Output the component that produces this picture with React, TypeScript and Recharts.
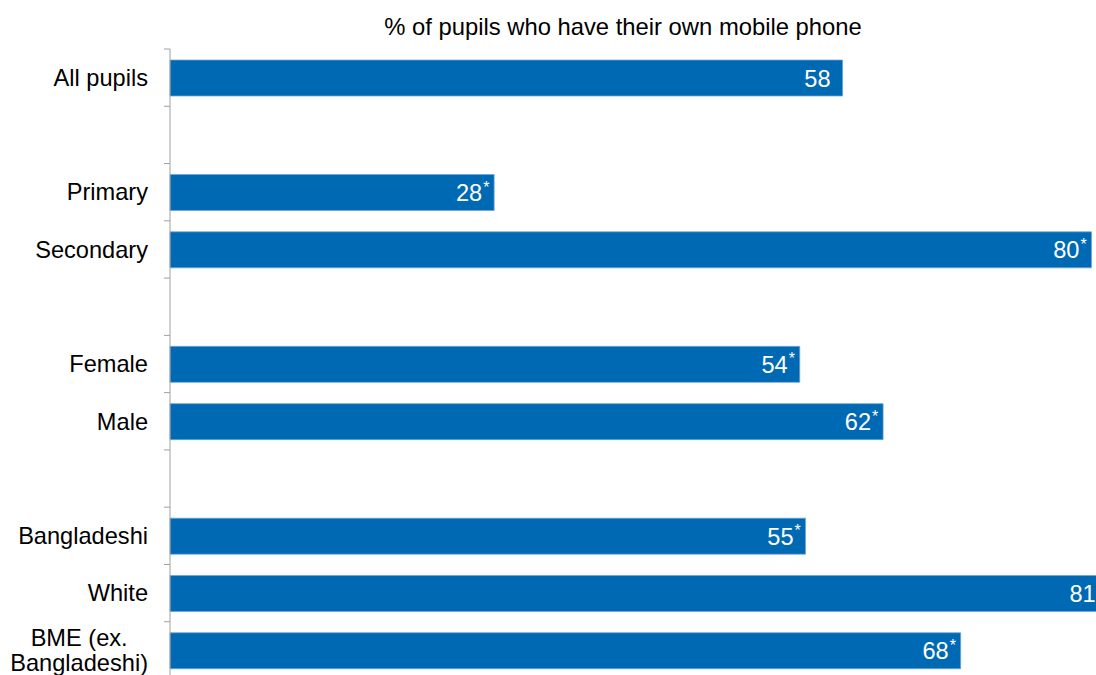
import React from "react";
import { BarChart, Bar, XAxis, YAxis, LabelList } from "recharts";

// rows top to bottom, "" = empty spacer row
const categories = [
  "All pupils",
  "",
  "Primary",
  "Secondary",
  "",
  "Female",
  "Male",
  "",
  "Bangladeshi",
  "White",
  "BME (ex.\nBangladeshi)",
];
const values = [58.1, null, 28.0, 79.6, null, 54.4, 61.6, null, 54.9, 81, 68.3];
const significant = [false, false, true, true, false, true, true, false, true, true, true];

const TITLE = "% of pupils who have their own mobile phone";
const FONT = "'Liberation Sans', Arial, sans-serif";
const FS = 23.6;
const BLUE = "#0069B4";

const AXIS_X = 170;
const PLOT_TOP = 49;
const PLOT_H = 630;
const STEP = PLOT_H / categories.length;

const data = categories.map((name, i) => ({
  key: `r${i}`,
  name,
  value: values[i],
  label:
    values[i] == null ? "" : `${Math.round(values[i] as number)}${significant[i] ? "*" : ""}`,
}));

let ctx: CanvasRenderingContext2D | null = null;
const measure = (s: string) => {
  if (!ctx) ctx = document.createElement("canvas").getContext("2d");
  if (!ctx) return s.length * 11;
  ctx.font = `${FS}px ${FONT}`;
  return ctx.measureText(s).width;
};

const CategoryTick = (props: any) => {
  const { y, payload } = props;
  const i = Number(String(payload.value).slice(1));
  const lines = categories[i] ? categories[i].split("\n") : [];
  const right = AXIS_X - 22;
  const widest = Math.max(0, ...lines.map(measure));
  const cx = right - widest / 2;
  return (
    <g>
      <line x1={AXIS_X - 6} x2={AXIS_X} y1={y - STEP / 2} y2={y - STEP / 2} stroke="#A0A0A0" />
      {i === categories.length - 1 && (
        <line x1={AXIS_X - 6} x2={AXIS_X} y1={y + STEP / 2} y2={y + STEP / 2} stroke="#A0A0A0" />
      )}
      {lines.map((ln, k) => (
        <text
          key={k}
          x={lines.length > 1 ? cx : right}
          y={y + 8.3 - ((lines.length - 1) * 25) / 2 + k * 25}
          textAnchor={lines.length > 1 ? "middle" : "end"}
          fontSize={FS}
          fontFamily={FONT}
          fill="#000"
        >
          {ln}
        </text>
      ))}
    </g>
  );
};

const ValueLabel = (props: any) => {
  const { x, y, width, height, value } = props;
  if (!value) return null;
  const str = String(value);
  const star = str.endsWith("*");
  const digits = star ? str.slice(0, -1) : str;
  const end = x + width - 12;
  const base = y + height / 2 + 8.5;
  return (
    <g>
      <text x={end} y={base} textAnchor="end" fontSize={FS} fontFamily={FONT} fill="#fff">
        {digits}
      </text>
      {star && (
        <text x={end + 1} y={base - 8.5} textAnchor="start" fontSize={16} fontFamily={FONT} fill="#fff">
          *
        </text>
      )}
    </g>
  );
};

export default function App() {
  return (
    <div
      style={{
        position: "absolute",
        left: 0,
        top: 0,
        width: 1096,
        height: 675,
        overflow: "hidden",
        background: "#fff",
      }}
    >
      <div
        style={{
          position: "absolute",
          left: 323,
          width: 600,
          top: 13,
          lineHeight: "28px",
          textAlign: "center",
          fontFamily: FONT,
          fontSize: 23.8,
          color: "#000",
        }}
      >
        {TITLE}
      </div>
      <BarChart
        width={1154}
        height={700}
        data={data}
        layout="vertical"
        margin={{ top: PLOT_TOP, right: 0, bottom: 700 - PLOT_TOP - PLOT_H, left: 0 }}
      >
        <XAxis type="number" domain={[0, 85]} hide />
        <YAxis
          type="category"
          dataKey="key"
          width={AXIS_X}
          axisLine={{ stroke: "#A0A0A0" }}
          tickLine={false}
          tick={<CategoryTick />}
          interval={0}
        />
        <Bar dataKey="value" fill={BLUE} stroke="#6FA5D8" strokeWidth={0.75} barSize={36} isAnimationActive={false}>
          <LabelList dataKey="label" content={<ValueLabel />} />
        </Bar>
      </BarChart>
    </div>
  );
}
